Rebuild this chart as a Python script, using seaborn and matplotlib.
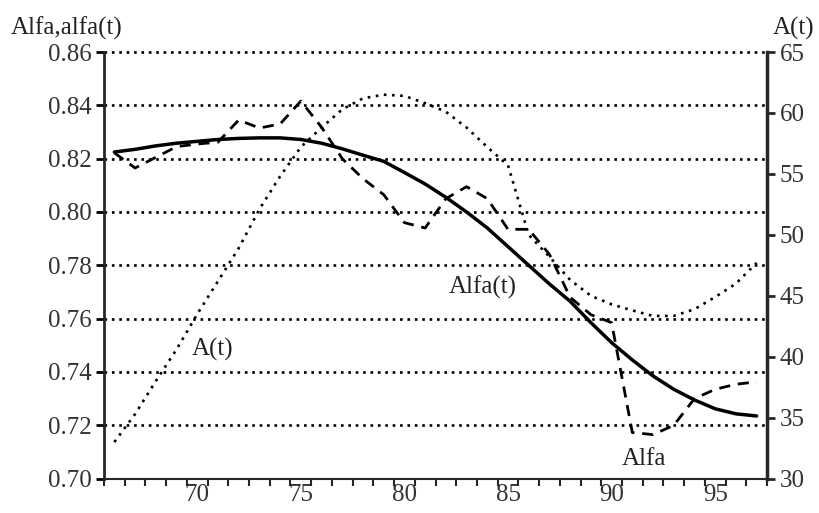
import matplotlib
matplotlib.use("Agg")
import matplotlib.pyplot as plt
import seaborn as sns
import pandas as pd
import numpy as np

# yearly values
years = list(range(66, 98))
alfa_t = [0.8225, 0.8235, 0.8248, 0.8258, 0.8265, 0.8272, 0.8276, 0.8278,
          0.8278, 0.8272, 0.8258, 0.8237, 0.8213, 0.8190, 0.8148, 0.8105,
          0.8055, 0.8000, 0.7940, 0.7870, 0.7800, 0.7730, 0.7665, 0.7585,
          0.7510, 0.7445, 0.7385, 0.7335, 0.7295, 0.7262, 0.7243, 0.7235]
alfa = [0.8222, 0.8165, 0.8205, 0.8245, 0.8255, 0.8262, 0.8345, 0.8315,
        0.8330, 0.8416, 0.8318, 0.8200, 0.8125, 0.8065, 0.7960, 0.7940,
        0.8050, 0.8095, 0.8050, 0.7935, 0.7935, 0.7841, 0.7680, 0.7615,
        0.7585, 0.7173, 0.7165, 0.7200, 0.7300, 0.7335, 0.7354, 0.7363]
a_t = [33.0, 35.3, 38.0, 40.6, 43.5, 46.2, 48.9, 52.1, 54.8, 57.2, 58.8,
       60.3, 61.2, 61.5, 61.4, 60.8, 60.1, 58.8, 57.2, 55.7, 50.0, 48.2,
       46.3, 45.0, 44.3, 43.8, 43.35, 43.35, 43.9, 44.9, 46.0, 47.7]

left_ticks = [0.70, 0.72, 0.74, 0.76, 0.78, 0.80, 0.82, 0.84, 0.86]
right_ticks = [30, 35, 40, 45, 50, 55, 60, 65]
x_labels = [70, 75, 80, 85, 90, 95]

df = pd.DataFrame({"year": years, "alfa_t": alfa_t, "alfa": alfa, "a_t": a_t})

sns.set_style("white")
plt.rcParams["font.family"] = ["Liberation Serif", "DejaVu Serif"]
fs = 18

fig = plt.figure(figsize=(8.19, 5.13), dpi=100)
ax = fig.add_axes([0.127, 0.067, 0.8095, 0.8316])
ax2 = ax.twinx()

# grid lines
for v in left_ticks[1:]:
    ax.axhline(v, color="black", lw=1.9, ls=(0, (1, 1.8)), zorder=1, clip_on=False)

sns.lineplot(data=df, x="year", y="alfa_t", ax=ax, color="black", lw=2.5, zorder=3)
sns.lineplot(data=df, x="year", y="alfa", ax=ax, color="black", lw=2.0, zorder=3)
ax.lines[-1].set_dashes((4, 2.8))
sns.lineplot(data=df, x="year", y="a_t", ax=ax2, color="black", lw=1.9, zorder=3)
ax2.lines[-1].set_linestyle((0, (1, 2.1)))

ax.set_xlim(65.5, 97.5)
ax.set_ylim(0.70, 0.86)
ax2.set_ylim(30, 65)

ax.set_yticks(left_ticks)
ax.set_yticklabels([f"{v:.2f}" for v in left_ticks])
ax2.set_yticks(right_ticks)
ax.set_xticks(x_labels)
ax.set_xticks(np.arange(65.5, 97.6, 1), minor=True)

for a in (ax, ax2):
    a.set_xlabel("")
    a.set_ylabel("")
    a.spines["top"].set_visible(False)

ax.spines["left"].set_linewidth(2)
ax.spines["bottom"].set_linewidth(1.5)
ax.spines["right"].set_visible(False)
ax2.spines["left"].set_visible(False)
ax2.spines["bottom"].set_visible(False)
ax2.spines["right"].set_linewidth(2.5)

ax.tick_params(axis="y", direction="out", length=6, width=2, labelsize=fs,
               colors="black", labelcolor="#333333", left=True, pad=3)
ax.tick_params(axis="x", which="major", length=0, labelsize=fs,
               labelcolor="#333333", pad=4)
ax.tick_params(axis="x", which="minor", direction="out", length=5, width=1.5,
               bottom=True)
ax2.tick_params(axis="y", direction="out", length=6, width=2, labelsize=fs,
                labelcolor="#333333", right=True, pad=3)

fig.text(0.013, 0.945, "Alfa,alfa(t)", fontsize=fs, color="#222222",
         va="center", ha="left")
fig.text(0.943, 0.945, "A(t)", fontsize=fs, color="#222222",
         va="center", ha="left")

ax.text(70.75, 0.7484, "A(t)", fontsize=fs, color="#222222", ha="center", va="center")
ax.text(83.8, 0.7718, "Alfa(t)", fontsize=fs, color="#222222", ha="center", va="center")
ax.text(91.55, 0.7072, "Alfa", fontsize=fs, color="#222222", ha="center", va="center")

fig.savefig("out.png", dpi=100)
